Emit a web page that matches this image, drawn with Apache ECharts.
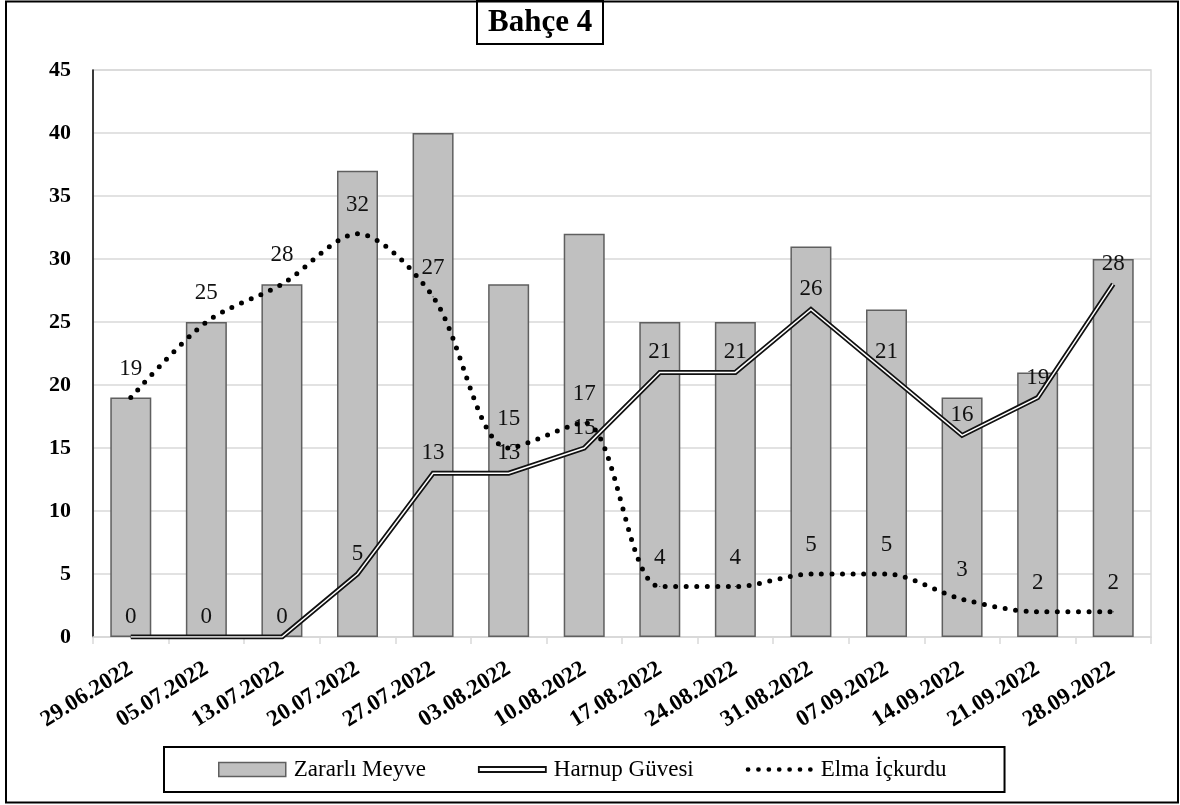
<!DOCTYPE html>
<html>
<head>
<meta charset="utf-8">
<title>Bahçe 4</title>
<script src="https://cdn.jsdelivr.net/npm/echarts@6/dist/echarts.min.js"></script>
<style>
  html, body { margin: 0; padding: 0; background: #fff; }
  #chart { width: 1180px; height: 805px; }
</style>
</head>
<body>
<div id="chart"></div>
<script>
// Sampling dates
const dates = ['29.06.2022', '05.07.2022', '13.07.2022', '20.07.2022', '27.07.2022',
  '03.08.2022', '10.08.2022', '17.08.2022', '24.08.2022', '31.08.2022',
  '07.09.2022', '14.09.2022', '21.09.2022', '28.09.2022'];

// Counts per date
const zararliMeyve = [19, 25, 28, 37, 40, 28, 32, 25, 25, 31, 26, 19, 21, 30];
const harnupGuvesi = [0, 0, 0, 5, 13, 13, 15, 21, 21, 26, 21, 16, 19, 28];
const elmaIckurdu = [19, 25, 28, 32, 27, 15, 17, 4, 4, 5, 5, 3, 2, 2];

// Y axis range
const yMin = 0, yMax = 45, yStep = 5;

const serif = 'Liberation Serif, Times New Roman, serif';

const labelStyle = {
  show: true,
  position: 'top',
  fontFamily: serif,
  fontSize: 23,
  color: '#111'
};

// Legend icons: thin outlined bar for the double line, row of dots for the dotted line
const doubleLineIcon = 'path://M0,0H67V5H0Z';
let dotsPath = 'path://';
for (let i = 0; i < 7; i++) {
  const cx = 2.4 + i * 10.5;
  dotsPath += 'M' + (cx - 2.4) + ',2.4a2.4,2.4 0 1,0 4.8,0a2.4,2.4 0 1,0 -4.8,0Z';
}

const chart = echarts.init(document.getElementById('chart'), null, { renderer: 'canvas' });

chart.setOption({
  backgroundColor: '#fff',
  animation: false,
  title: {
    text: 'Bahçe 4',
    left: 477,
    top: 1,
    padding: [6, 11, 6, 11],
    borderColor: '#000',
    borderWidth: 2,
    textStyle: { fontFamily: serif, fontWeight: 'bold', fontSize: 31, color: '#000' }
  },
  graphic: [{
    type: 'rect',
    silent: true,
    z: -1,
    shape: { x: 6, y: 1.5, width: 1172, height: 801 },
    style: { fill: 'none', stroke: '#000', lineWidth: 2 }
  }],
  grid: {
    left: 93, right: 29, top: 70, bottom: 168,
    show: true,
    borderColor: '#d9d9d9',
    borderWidth: 1.5
  },
  legend: {
    left: 164,
    top: 747,
    padding: [11, 58, 11, 54],
    itemGap: 52,
    itemWidth: 67,
    itemHeight: 14,
    borderColor: '#000',
    borderWidth: 2,
    selectedMode: false,
    textStyle: { fontFamily: serif, fontSize: 23, color: '#000', padding: [0, 0, 0, 3] },
    data: [
      { name: 'Zararlı Meyve', icon: 'rect',
        itemStyle: { color: '#c0c0c0', borderColor: '#5f5f5f', borderWidth: 1.5 } },
      { name: 'Harnup Güvesi', icon: doubleLineIcon,
        itemStyle: { color: '#fff', borderColor: '#111', borderWidth: 1.8 } },
      { name: 'Elma İçkurdu', icon: dotsPath,
        itemStyle: { color: '#000', borderWidth: 0 } }
    ]
  },
  xAxis: {
    type: 'category',
    data: dates,
    axisLine: { show: true, lineStyle: { color: '#d9d9d9', width: 1.5 } },
    axisTick: { show: true, length: 7, lineStyle: { color: '#d9d9d9', width: 1.5 } },
    axisLabel: {
      interval: 0,
      rotate: 32,
      margin: 30,
      fontFamily: serif,
      fontWeight: 'bold',
      fontSize: 23,
      color: '#000'
    }
  },
  yAxis: {
    type: 'value',
    min: yMin, max: yMax, interval: yStep,
    axisLine: { show: true, lineStyle: { color: '#000', width: 1.5 } },
    axisTick: { show: false },
    splitLine: { lineStyle: { color: '#d9d9d9', width: 1.5 } },
    axisLabel: {
      margin: 22,
      fontFamily: serif,
      fontWeight: 'bold',
      fontSize: 22,
      color: '#000'
    }
  },
  series: [
    {
      name: 'Zararlı Meyve',
      type: 'bar',
      data: zararliMeyve,
      barWidth: 41,
      itemStyle: { color: '#c0c0c0', borderColor: '#5f5f5f', borderWidth: 1.5 }
    },
    {
      // outer dark stroke of the double line
      name: 'Harnup Güvesi',
      type: 'line',
      data: harnupGuvesi,
      symbol: 'circle',
      symbolSize: 1,
      itemStyle: { color: '#111' },
      lineStyle: { color: '#111', width: 5, join: 'miter' },
      label: Object.assign({}, labelStyle, { distance: 8 }),
      z: 3
    },
    {
      // white core of the double line
      name: 'Harnup Güvesi',
      type: 'line',
      data: harnupGuvesi,
      symbol: 'none',
      silent: true,
      lineStyle: { color: '#fff', width: 1.5, join: 'miter' },
      z: 4
    },
    {
      name: 'Elma İçkurdu',
      type: 'line',
      data: elmaIckurdu,
      smooth: 0.3,
      symbol: 'circle',
      symbolSize: 1,
      itemStyle: { color: '#000' },
      lineStyle: { color: '#000', width: 5, type: [0, 10.5], cap: 'round' },
      label: Object.assign({}, labelStyle, { distance: 17 }),
      z: 5
    }
  ]
});
</script>
</body>
</html>
